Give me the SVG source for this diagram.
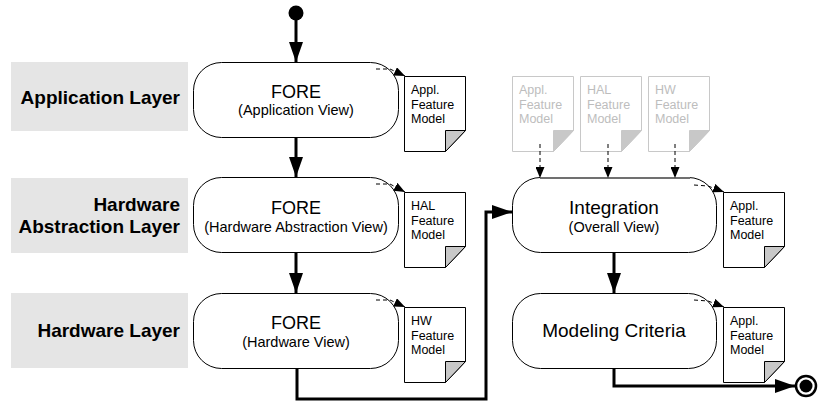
<svg xmlns="http://www.w3.org/2000/svg" width="818" height="402" viewBox="0 0 818 402">
<style>
.bg{fill:#fff}
.lay{fill:#e5e5e5}
.layt{font-family:"Liberation Sans",Arial,sans-serif;font-weight:bold;font-size:19px;fill:#000;text-anchor:end}
.node{fill:#fff;stroke:#000;stroke-width:1}
.t1{font-family:"Liberation Sans",Arial,sans-serif;font-size:18px;fill:#000;text-anchor:middle}
.t2{font-family:"Liberation Sans",Arial,sans-serif;font-size:14.5px;fill:#000;text-anchor:middle}
.t3{font-family:"Liberation Sans",Arial,sans-serif;font-size:19px;fill:#000;text-anchor:middle}
.doc{fill:#fff;stroke:#000;stroke-width:1}
.fold{fill:#c8c8c8;stroke:#000;stroke-width:1}
.dt{font-family:"Liberation Sans",Arial,sans-serif;font-size:12.5px;fill:#000}
.gdoc{fill:#fff;stroke:#c8c8c8;stroke-width:1}
.gfold{fill:#c8c8c8;stroke:#c8c8c8;stroke-width:1}
.gdt{font-family:"Liberation Sans",Arial,sans-serif;font-size:12.5px;fill:#bdbdbd}
.main{fill:none;stroke:#000;stroke-width:3;marker-end:url(#big)}
.dash{fill:none;stroke:#000;stroke-width:1;stroke-dasharray:4 3;marker-end:url(#small)}
</style>
<defs>
<marker id="big" markerUnits="userSpaceOnUse" markerWidth="20" markerHeight="14" refX="20" refY="7" orient="auto">
<path d="M0,0 L20,7 L0,14 Z" fill="#000"/>
</marker>
<marker id="small" markerUnits="userSpaceOnUse" markerWidth="11" markerHeight="9" refX="11" refY="4.5" orient="auto">
<path d="M0,0 L11,4.5 L0,9 Z" fill="#000"/>
</marker>
</defs>
<rect class="bg" x="0" y="0" width="818" height="402"/>

<g id="layer-app">
<rect class="lay" x="11" y="62" width="177" height="69"/>
<text class="layt" x="180" y="104">Application Layer</text>
</g>
<g id="layer-hal">
<rect class="lay" x="11" y="178" width="177" height="75"/>
<text class="layt" x="180" y="211">Hardware</text>
<text class="layt" x="180" y="233">Abstraction Layer</text>
</g>
<g id="layer-hw">
<rect class="lay" x="11" y="293" width="177" height="75"/>
<text class="layt" x="180" y="337">Hardware Layer</text>
</g>

<g id="start"><circle cx="296" cy="13" r="7.5" fill="#000"/></g>

<g id="fore-app">
<rect class="node" x="193.5" y="62.5" width="205" height="75" rx="28" ry="28"/>
<text class="t1" x="296" y="98">FORE</text>
<text class="t2" x="296" y="115">(Application View)</text>
</g>
<g id="fore-hal">
<rect class="node" x="193.5" y="177.5" width="205" height="75" rx="28" ry="28"/>
<text class="t1" x="296" y="214">FORE</text>
<text class="t2" x="296" y="232">(Hardware Abstraction View)</text>
</g>
<g id="fore-hw">
<rect class="node" x="193.5" y="293.5" width="205" height="75" rx="28" ry="28"/>
<text class="t1" x="296" y="329">FORE</text>
<text class="t2" x="296" y="347">(Hardware View)</text>
</g>
<g id="integration">
<rect class="node" x="512.5" y="177.5" width="204" height="75" rx="28" ry="28"/>
<line x1="540" y1="178" x2="690" y2="178" stroke="#707070" stroke-width="2"/>
<text class="t3" x="614" y="214">Integration</text>
<text class="t2" x="614" y="232">(Overall View)</text>
</g>
<g id="modeling">
<rect class="node" x="512.5" y="293.5" width="204" height="75" rx="28" ry="28"/>
<text class="t3" x="614" y="337">Modeling Criteria</text>
</g>

<g id="doc-appl-1">
<path class="doc" d="M404.5,76.5 H465.5 V130.5 L445.5,151.5 H404.5 Z"/>
<path class="fold" d="M445.5,151.5 V130.5 H465.5 Z"/>
<text class="dt" x="411" y="94">Appl.</text><text class="dt" x="411" y="108.5">Feature</text><text class="dt" x="411" y="123">Model</text>
</g>
<g id="doc-hal">
<path class="doc" d="M404.5,192.5 H465.5 V246.5 L445.5,267.5 H404.5 Z"/>
<path class="fold" d="M445.5,267.5 V246.5 H465.5 Z"/>
<text class="dt" x="411" y="210">HAL</text><text class="dt" x="411" y="224.5">Feature</text><text class="dt" x="411" y="239">Model</text>
</g>
<g id="doc-hw">
<path class="doc" d="M404.5,307.5 H465.5 V361.5 L445.5,382.5 H404.5 Z"/>
<path class="fold" d="M445.5,382.5 V361.5 H465.5 Z"/>
<text class="dt" x="411" y="325">HW</text><text class="dt" x="411" y="339.5">Feature</text><text class="dt" x="411" y="354">Model</text>
</g>
<g id="doc-appl-2">
<path class="doc" d="M723.5,192.5 H784.5 V246.5 L764.5,267.5 H723.5 Z"/>
<path class="fold" d="M764.5,267.5 V246.5 H784.5 Z"/>
<text class="dt" x="730" y="210">Appl.</text><text class="dt" x="730" y="224.5">Feature</text><text class="dt" x="730" y="239">Model</text>
</g>
<g id="doc-appl-3">
<path class="doc" d="M723.5,307.5 H784.5 V361.5 L764.5,382.5 H723.5 Z"/>
<path class="fold" d="M764.5,382.5 V361.5 H784.5 Z"/>
<text class="dt" x="730" y="325">Appl.</text><text class="dt" x="730" y="339.5">Feature</text><text class="dt" x="730" y="354">Model</text>
</g>
<g id="gdoc-appl">
<path class="gdoc" d="M512.5,76.5 H573.5 V130.5 L553.5,151.5 H512.5 Z"/>
<path class="gfold" d="M553.5,151.5 V130.5 H573.5 Z"/>
<text class="gdt" x="519" y="94">Appl.</text><text class="gdt" x="519" y="108.5">Feature</text><text class="gdt" x="519" y="123">Model</text>
</g>
<g id="gdoc-hal">
<path class="gdoc" d="M580.5,76.5 H641.5 V130.5 L621.5,151.5 H580.5 Z"/>
<path class="gfold" d="M621.5,151.5 V130.5 H641.5 Z"/>
<text class="gdt" x="587" y="94">HAL</text><text class="gdt" x="587" y="108.5">Feature</text><text class="gdt" x="587" y="123">Model</text>
</g>
<g id="gdoc-hw">
<path class="gdoc" d="M648.5,76.5 H709.5 V130.5 L689.5,151.5 H648.5 Z"/>
<path class="gfold" d="M689.5,151.5 V130.5 H709.5 Z"/>
<text class="gdt" x="655" y="94">HW</text><text class="gdt" x="655" y="108.5">Feature</text><text class="gdt" x="655" y="123">Model</text>
</g>

<g id="end">
<circle cx="806" cy="386" r="10" fill="#fff" stroke="#000" stroke-width="2.5"/>
<circle cx="806" cy="386" r="6.5" fill="#000"/>
</g>

<g id="connectors">
<path class="main" d="M296,13 V62"/>
<path class="main" d="M296,137 V177"/>
<path class="main" d="M296,253 V293"/>
<path class="main" d="M297,368 V399 H486 V212 H512"/>
<path class="main" d="M614,253 V293"/>
<path class="main" d="M614,368 V386 H795"/>
<path class="dash" d="M376,69 L390,69 L405,76"/>
<path class="dash" d="M376,184 L390,184 L405,192"/>
<path class="dash" d="M376,300 L390,300 L405,307"/>
<path class="dash" d="M694,185 L708,186 L724,192"/>
<path class="dash" d="M694,300 L708,301 L724,307"/>
<path class="dash" d="M540,144 V178"/>
<path class="dash" d="M608,144 V178"/>
<path class="dash" d="M675,144 V178"/>
</g>
</svg>
